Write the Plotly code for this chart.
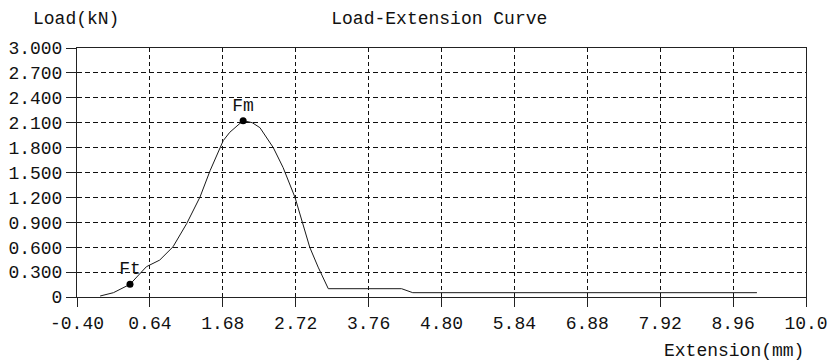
import plotly.graph_objects as go

# Curve data (Extension mm, Load kN)
ext = [-0.07, 0.12, 0.356, 0.59, 0.78, 0.97, 1.165, 1.355, 1.50, 1.687, 1.78, 1.97,
       2.10, 2.21, 2.40, 2.54, 2.71, 2.805, 2.92, 3.04, 3.185, 4.23, 4.39, 9.30]
load = [0.012, 0.052, 0.153, 0.365, 0.445, 0.605, 0.885, 1.205, 1.525, 1.885, 1.985, 2.125,
        2.10, 2.04, 1.80, 1.56, 1.20, 0.92, 0.60, 0.36, 0.100, 0.100, 0.052, 0.052]

point_names = ["Ft", "Fm"]
point_ext = [0.356, 1.97]
point_load = [0.153, 2.125]

x_ticks = [-0.40, 0.64, 1.68, 2.72, 3.76, 4.80, 5.84, 6.88, 7.92, 8.96, 10.0]
x_ticktext = ["-0.40", "0.64", "1.68", "2.72", "3.76", "4.80", "5.84", "6.88", "7.92", "8.96", "10.0"]
y_ticks = [0, 0.3, 0.6, 0.9, 1.2, 1.5, 1.8, 2.1, 2.4, 2.7, 3.0]
y_ticktext = ["0", "0.300", "0.600", "0.900", "1.200", "1.500", "1.800", "2.100", "2.400", "2.700", "3.000"]

FONT = "Liberation Mono, DejaVu Sans Mono, monospace"
fs = 18
TXT = "#111111"

fig = go.Figure()
fig.add_trace(go.Scatter(x=ext, y=load, mode="lines",
                         line=dict(color="#1a1a1a", width=1), hoverinfo="skip", showlegend=False))
fig.add_trace(go.Scatter(x=point_ext, y=point_load, mode="markers+text",
                         text=point_names, textposition="top center",
                         textfont=dict(family=FONT, size=fs, color=TXT),
                         marker=dict(color="black", size=7), showlegend=False))

fig.update_layout(
    width=832, height=361,
    margin=dict(l=77, r=26, t=48, b=64),
    paper_bgcolor="white", plot_bgcolor="white",
    font=dict(family=FONT, size=fs, color=TXT),
    title=dict(text="Load-Extension Curve", x=0.528, xanchor="center", y=0.95, yanchor="middle",
               font=dict(family=FONT, size=fs, color=TXT)),
    annotations=[
        dict(text="Load(kN)", xref="paper", yref="paper", x=-0.063, y=1.0, yshift=29,
             xanchor="left", yanchor="middle", showarrow=False,
             font=dict(family=FONT, size=fs, color=TXT)),
        dict(text="Extension(mm)", xref="paper", yref="paper", x=1.0, y=0, yshift=-54,
             xanchor="right", yanchor="middle", showarrow=False,
             font=dict(family=FONT, size=fs, color=TXT)),
    ],
)
fig.update_xaxes(range=[-0.40, 10.0], tickvals=x_ticks, ticktext=x_ticktext,
                 showline=True, linecolor="#222222", linewidth=1, mirror=True,
                 ticks="outside", ticklen=9, tickcolor="#222222",
                 showgrid=True, gridcolor="#111111", gridwidth=1, griddash="4px,3px",
                 zeroline=False, fixedrange=True, automargin=False)
fig.update_yaxes(range=[0, 3.0], tickvals=y_ticks, ticktext=y_ticktext,
                 showline=True, linecolor="#222222", linewidth=1, mirror=True,
                 ticks="outside", ticklen=10, tickcolor="#222222",
                 showgrid=True, gridcolor="#111111", gridwidth=1, griddash="5px,3px",
                 zeroline=False, fixedrange=True, automargin=False)

fig.write_html("out.html", config={"displayModeBar": False},
               post_script="document.body.style.margin='0';")
